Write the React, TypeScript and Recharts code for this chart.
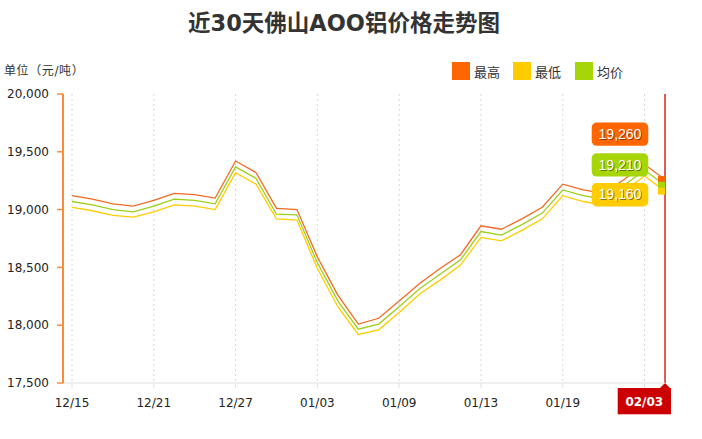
import { LineChart, Line, XAxis, YAxis, CartesianGrid, ReferenceLine, ReferenceDot } from 'recharts'

const dates = [
  '12/15', '12/16', '12/19', '12/20', '12/21', '12/22', '12/23', '12/26', '12/27', '12/28',
  '12/29', '12/30', '01/03', '01/04', '01/05', '01/06', '01/09', '01/10', '01/11', '01/12',
  '01/13', '01/16', '01/17', '01/18', '01/19', '01/20', '01/23', '01/24', '01/25', '02/03',
]
const highPrices = [
  19120, 19090, 19050, 19030, 19080, 19140, 19130, 19100, 19420, 19320,
  19010, 19000, 18590, 18260, 18010, 18060, 18210, 18360, 18490, 18610,
  18860, 18830, 18920, 19020, 19220, 19170, 19140, 19260, 19390, 19260,
]
const avgPrices = [
  19070, 19040, 19000, 18980, 19030, 19090, 19080, 19050, 19370, 19270,
  18960, 18955, 18540, 18210, 17965, 18010, 18160, 18315, 18440, 18565,
  18810, 18780, 18870, 18970, 19170, 19120, 19090, 19210, 19340, 19210,
]
const lowPrices = [
  19020, 18990, 18950, 18935, 18980, 19040, 19030, 19000, 19320, 19220,
  18920, 18910, 18490, 18160, 17920, 17960, 18110, 18270, 18390, 18520,
  18760, 18730, 18820, 18920, 19120, 19070, 19040, 19160, 19290, 19160,
]
const tickDates = ['12/15', '12/21', '12/27', '01/03', '01/09', '01/13', '01/19', '01/25']
const priceTicks = [17500, 18000, 18500, 19000, 19500, 20000]

const HIGH = '#ff6600'
const LOW = '#ffcc00'
const AVG = '#a6d608'
const FONT = '"DejaVu Sans", "Noto Sans CJK SC", sans-serif'

const data = dates.map((date, i) => ({
  date,
  high: highPrices[i],
  avg: avgPrices[i],
  low: lowPrices[i],
}))
const last = data[data.length - 1]

const fmt = (v: number) => v.toLocaleString('en-US')

// value tag drawn left of the last point
function PriceTag(props: any, color: string, value: number, top: number) {
  const { cx, cy } = props
  if (cx == null || cy == null) return <g />
  const bx = cx - 73.3
  const by = cy + top
  return (
    <g>
      <rect x={cx - 7} y={cy - 3.5} width={7} height={7} fill={color} />
      <rect x={bx} y={by} width={56.6} height={23.3} rx={5} ry={5} fill={color} />
      <text x={bx + 29.3} y={by + 17.3} textAnchor="middle" fontSize={14} fontFamily="Liberation Sans, Arial" fill="rgba(0,0,0,0.45)">
        {fmt(value)}
      </text>
      <text x={bx + 28.3} y={by + 16.3} textAnchor="middle" fontSize={14} fontFamily="Liberation Sans, Arial" fill="#fff">
        {fmt(value)}
      </text>
    </g>
  )
}

function CrossLabel(props: any) {
  const vb = props.viewBox || {}
  const x = vb.x ?? 0
  const bottom = (vb.y ?? 0) + (vb.height ?? 0)
  return (
    <g>
      <path d={`M${x - 6},${bottom + 6} L${x},${bottom} L${x + 6},${bottom + 6} Z`} fill="#cc0000" />
      <rect x={x - 47.3} y={bottom + 5} width={53.3} height={26.3} fill="#cc0000" />
      <text x={x - 20.7} y={bottom + 23} textAnchor="middle" fontSize={12} fontWeight="bold" fontFamily={FONT} fill="#fff">
        {props.value}
      </text>
    </g>
  )
}

function LegendItem({ color, name, left }: { color: string; name: string; left: number }) {
  return (
    <div style={{ position: 'absolute', left, top: 62, display: 'flex', alignItems: 'center', height: 18 }}>
      <span style={{ width: 18, height: 18, background: color, display: 'inline-block' }} />
      <span style={{ marginLeft: 4, fontSize: 13, color: '#333' }}>{name}</span>
    </div>
  )
}

export default function App() {
  return (
    <div style={{ position: 'absolute', left: 0, top: 0, width: 702, height: 439, background: '#fff', fontFamily: FONT }}>
      <div style={{ position: 'absolute', left: 188, top: 8, fontSize: 22.5, fontWeight: 'bold', color: '#333', lineHeight: '30px', whiteSpace: 'nowrap' }}>
        近30天佛山AOO铝价格走势图
      </div>
      <div style={{ position: 'absolute', left: 4, top: 61, fontSize: 12, color: '#333', whiteSpace: 'nowrap', letterSpacing: 0.6 }}>
        单位（元/吨）
      </div>
      <LegendItem color={HIGH} name="最高" left={452} />
      <LegendItem color={LOW} name="最低" left={513} />
      <LegendItem color={AVG} name="均价" left={575} />
      <LineChart width={702} height={439} data={data} margin={{ top: 94, right: 37, bottom: 26, left: 0 }}>
        <CartesianGrid horizontal={false} stroke="#d6d6d6" strokeDasharray="2 3" />
        <XAxis
          dataKey="date"
          ticks={tickDates}
          interval={0}
          padding={{ left: 9, right: 0 }}
          height={30}
          tickSize={5}
          tickMargin={10}
          stroke="#e0e0e0"
          tickFormatter={(v) => (v === '01/25' ? '' : v)}
          tick={{ fill: '#222', fontSize: 12, fontFamily: FONT }}
        />
        <YAxis
          domain={[17500, 20000]}
          ticks={priceTicks}
          width={63}
          tickSize={6}
          tickMargin={8}
          axisLine={{ stroke: '#ff8a3d', strokeWidth: 2 }}
          tickLine={{ stroke: '#ff8a3d', strokeWidth: 1.5 }}
          tickFormatter={fmt}
          tick={{ fill: '#222', fontSize: 12, fontFamily: FONT }}
        />
        <Line dataKey="low" stroke={LOW} strokeWidth={1.3} dot={false} activeDot={false} isAnimationActive={false} />
        <Line dataKey="avg" stroke="#9fce1a" strokeWidth={1.3} dot={false} activeDot={false} isAnimationActive={false} />
        <Line dataKey="high" stroke="#f06a24" strokeWidth={1.3} dot={false} activeDot={false} isAnimationActive={false} />
        <ReferenceDot x={last.date} y={last.high} shape={(p: any) => PriceTag(p, HIGH, last.high, -57)} />
        <ReferenceDot x={last.date} y={last.avg} shape={(p: any) => PriceTag(p, AVG, last.avg, -32)} />
        <ReferenceDot x={last.date} y={last.low} shape={(p: any) => PriceTag(p, LOW, last.low, -8)} />
        <ReferenceLine x={last.date} stroke="#e05a5a" strokeWidth={2} label={<CrossLabel value={last.date} />} />
      </LineChart>
    </div>
  )
}
